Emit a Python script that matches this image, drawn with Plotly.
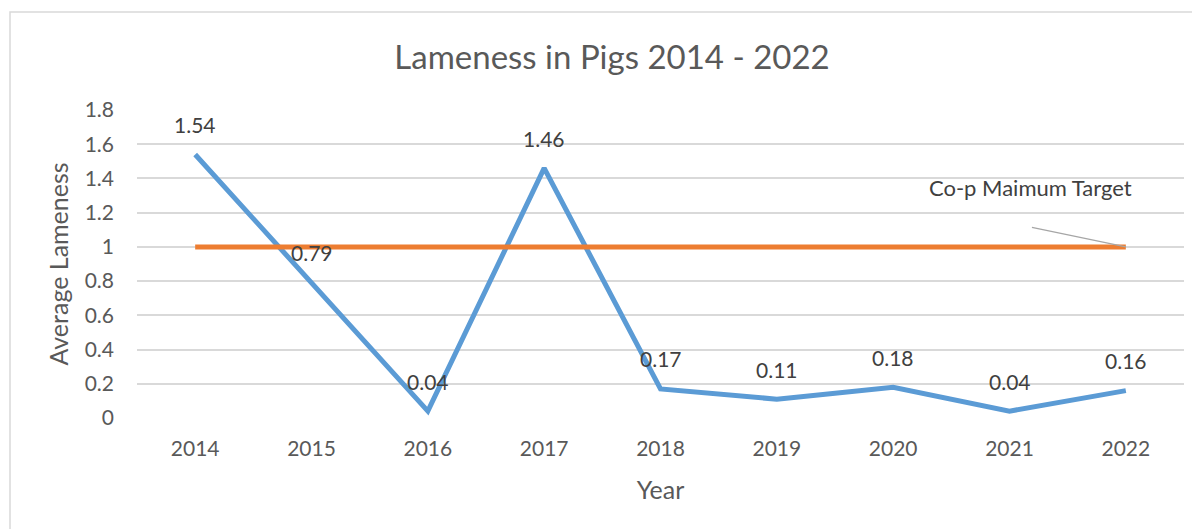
import plotly.graph_objects as go

years = ["2014", "2015", "2016", "2017", "2018", "2019", "2020", "2021", "2022"]
lameness = [1.54, 0.79, 0.04, 1.46, 0.17, 0.11, 0.18, 0.04, 0.16]
target = [1, 1, 1, 1, 1, 1, 1, 1, 1]
y_ticks = [0, 0.2, 0.4, 0.6, 0.8, 1, 1.2, 1.4, 1.6, 1.8]
y_tick_labels = ["0", "0.2", "0.4", "0.6", "0.8", "1", "1.2", "1.4", "1.6", "1.8"]
target_label = "Co-p Maimum Target"

FONT = "Lato, Open Sans, sans-serif"
TXT = "#595959"

xi = list(range(len(years)))

fig = go.Figure()
fig.add_trace(go.Scatter(x=xi, y=lameness, mode="lines", name="Average Lameness",
                         line=dict(color="#5B9BD5", width=5), cliponaxis=False))
fig.add_trace(go.Scatter(x=xi, y=target, mode="lines", name="Target",
                         line=dict(color="#ED7D31", width=5), cliponaxis=False))

for i, v in zip(xi, lameness):
    fig.add_annotation(x=i, y=v, text=f"{v:.2f}", showarrow=False, yshift=30,
                       font=dict(size=21, color="#404040", family=FONT))

# leader line + target label
fig.add_annotation(x=xi[-1], y=target[-1], ax=7.18, ay=1.116, axref="x", ayref="y",
                   text="", showarrow=True, arrowhead=0, arrowwidth=1.2, arrowcolor="#A6A6A6")
fig.add_annotation(x=7.18, y=1.35, text=target_label, showarrow=False,
                   font=dict(size=22, color="#404040", family=FONT))

fig.add_shape(type="rect", xref="paper", yref="paper", x0=-0.1213, x1=1.2, y0=-0.6, y1=1.318,
              line=dict(color="#D9D9D9", width=1.5), layer="below")

fig.update_layout(
    width=1192, height=521,
    margin=dict(l=129, r=16, t=102, b=111),
    paper_bgcolor="white", plot_bgcolor="white",
    showlegend=False,
    title=dict(text="Lameness in Pigs 2014 - 2022", x=0.4537, xref="paper", xanchor="center",
               y=0.906, yanchor="middle",
               font=dict(size=33, color=TXT, family=FONT)),
    font=dict(family=FONT, color=TXT),
    xaxis=dict(range=[-0.5, len(years) - 0.5], tickvals=xi, ticktext=years,
               showgrid=False, zeroline=False, showline=False,
               tickfont=dict(size=21, color=TXT), ticks="", ticklen=0, ticklabelstandoff=16,
               title=dict(text="Year", font=dict(size=25, color=TXT), standoff=22)),
    yaxis=dict(range=[0, 1.8], tickvals=y_ticks, ticktext=y_tick_labels,
               showgrid=True, gridcolor="#D9D9D9", gridwidth=1.5, zeroline=False,
               tickfont=dict(size=21, color=TXT), ticks="", ticklabelstandoff=22,
               title=dict(text="Average Lameness", font=dict(size=25, color=TXT), standoff=8)),
)

fig.write_html("out.html")
